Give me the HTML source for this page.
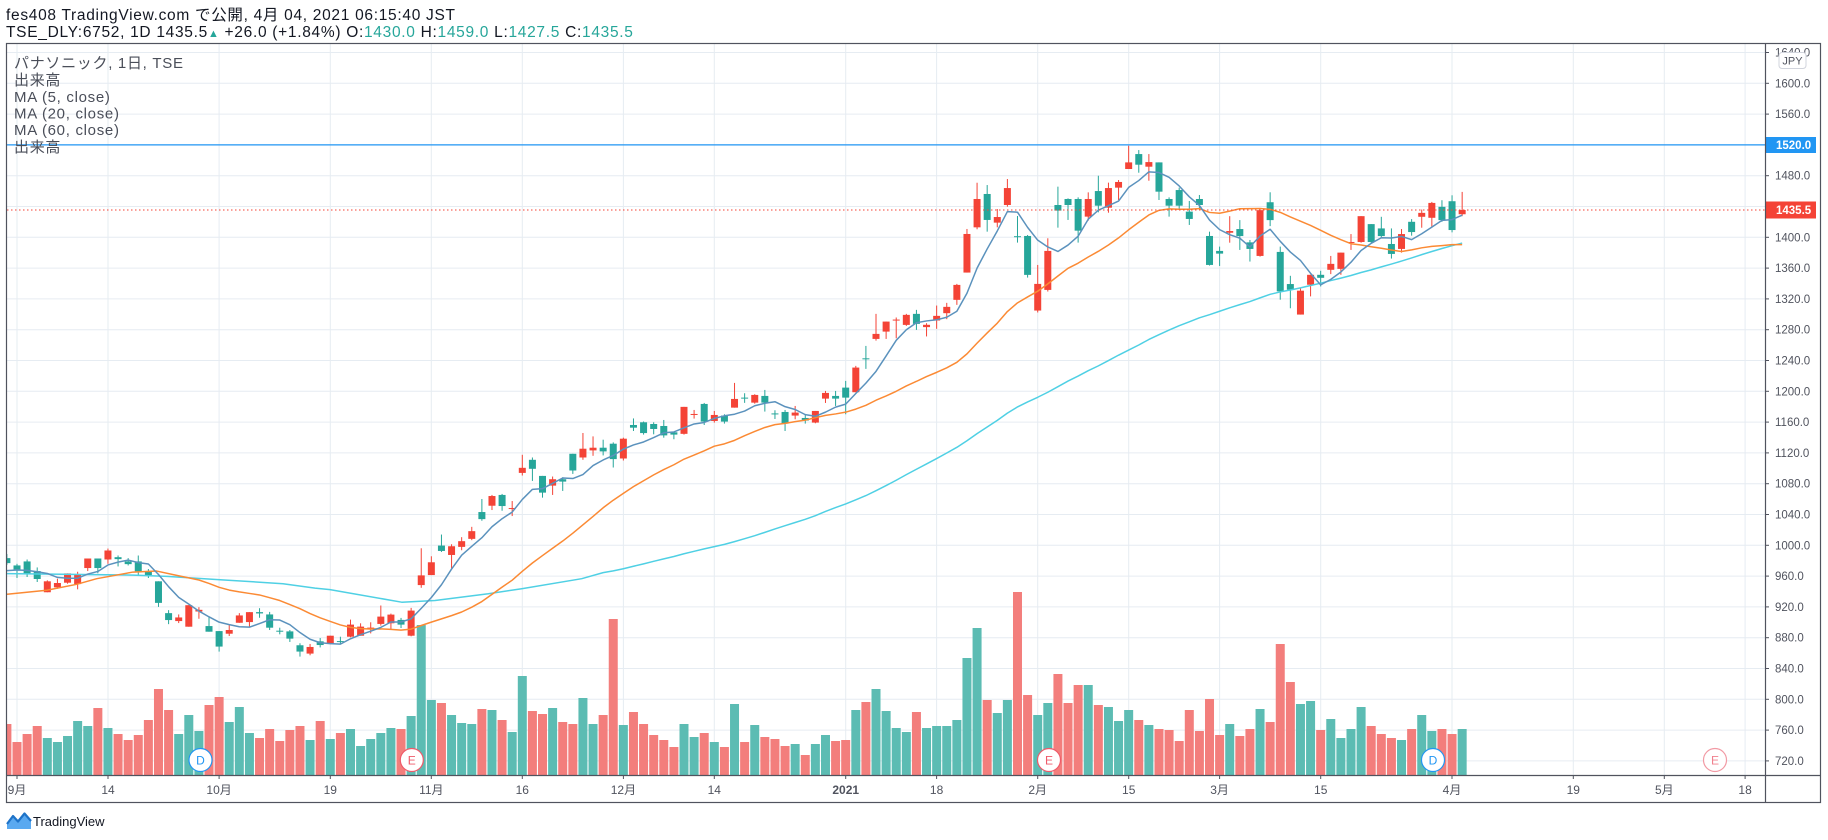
<!DOCTYPE html>
<html><head><meta charset="utf-8">
<style>
html,body{margin:0;padding:0;background:#fff;}
svg{display:block;}
.t{font-family:"Liberation Sans","Noto Sans CJK JP",sans-serif;}
</style></head>
<body>
<svg id="s" width="1828" height="840" viewBox="0 0 1828 840" xmlns="http://www.w3.org/2000/svg">
<defs><clipPath id="cp"><rect x="7" y="43.5" width="1758" height="731.5"/></clipPath></defs>
<rect x="0" y="0" width="1828" height="840" fill="#fff"/>
<!-- title -->
<text class="t" x="6" y="20" font-size="15.5" letter-spacing="0.7" fill="#131722">fes408 TradingView.com で公開, 4月 04, 2021 06:15:40 JST</text>
<text class="t" x="6" y="37" font-size="15.5" letter-spacing="0.7" fill="#131722">TSE_DLY:6752, 1D 1435.5<tspan fill="#26a69a" font-size="11">▲</tspan> +26.0 (+1.84%) O:<tspan fill="#26a69a">1430.0</tspan> H:<tspan fill="#26a69a">1459.0</tspan> L:<tspan fill="#26a69a">1427.5</tspan> C:<tspan fill="#26a69a">1435.5</tspan></text>

<!-- grid -->
<g stroke="#e6ecf2" stroke-width="1">
<line x1="7" x2="1765" y1="52.5" y2="52.5"/><line x1="7" x2="1765" y1="83.3" y2="83.3"/><line x1="7" x2="1765" y1="114.1" y2="114.1"/><line x1="7" x2="1765" y1="144.9" y2="144.9"/><line x1="7" x2="1765" y1="175.7" y2="175.7"/><line x1="7" x2="1765" y1="206.5" y2="206.5"/><line x1="7" x2="1765" y1="237.3" y2="237.3"/><line x1="7" x2="1765" y1="268.1" y2="268.1"/><line x1="7" x2="1765" y1="298.9" y2="298.9"/><line x1="7" x2="1765" y1="329.7" y2="329.7"/><line x1="7" x2="1765" y1="360.5" y2="360.5"/><line x1="7" x2="1765" y1="391.3" y2="391.3"/><line x1="7" x2="1765" y1="422.1" y2="422.1"/><line x1="7" x2="1765" y1="452.9" y2="452.9"/><line x1="7" x2="1765" y1="483.7" y2="483.7"/><line x1="7" x2="1765" y1="514.5" y2="514.5"/><line x1="7" x2="1765" y1="545.3" y2="545.3"/><line x1="7" x2="1765" y1="576.1" y2="576.1"/><line x1="7" x2="1765" y1="606.9" y2="606.9"/><line x1="7" x2="1765" y1="637.7" y2="637.7"/><line x1="7" x2="1765" y1="668.5" y2="668.5"/><line x1="7" x2="1765" y1="699.3" y2="699.3"/><line x1="7" x2="1765" y1="730.1" y2="730.1"/><line x1="7" x2="1765" y1="760.9" y2="760.9"/>
<line y1="43" y2="775" x1="17" x2="17"/><line y1="43" y2="775" x1="108" x2="108"/><line y1="43" y2="775" x1="219.1" x2="219.1"/><line y1="43" y2="775" x1="330.3" x2="330.3"/><line y1="43" y2="775" x1="431.3" x2="431.3"/><line y1="43" y2="775" x1="522.3" x2="522.3"/><line y1="43" y2="775" x1="623.4" x2="623.4"/><line y1="43" y2="775" x1="714.3" x2="714.3"/><line y1="43" y2="775" x1="845.7" x2="845.7"/><line y1="43" y2="775" x1="936.6" x2="936.6"/><line y1="43" y2="775" x1="1037.7" x2="1037.7"/><line y1="43" y2="775" x1="1128.7" x2="1128.7"/><line y1="43" y2="775" x1="1219.6" x2="1219.6"/><line y1="43" y2="775" x1="1320.7" x2="1320.7"/><line y1="43" y2="775" x1="1452" x2="1452"/><line y1="43" y2="775" x1="1573.3" x2="1573.3"/><line y1="43" y2="775" x1="1664.3" x2="1664.3"/><line y1="43" y2="775" x1="1745.1" x2="1745.1"/>
</g>

<g clip-path="url(#cp)">
<g id="vol"></g>
<g id="candles"></g>
<g id="mas"></g>
<line x1="7" x2="1765" y1="210" y2="210" stroke="#f44336" stroke-width="1" stroke-dasharray="1.5,2.5"/>
<line x1="7" x2="1765" y1="144.9" y2="144.9" stroke="#2196f3" stroke-width="1.3"/>
</g>

<!-- event markers -->
<g class="t" font-size="12" text-anchor="middle">
<circle cx="200.5" cy="760" r="11.5" fill="#fff" stroke="#2196f3" stroke-width="1.2"/><text x="200.5" y="764.5" fill="#2196f3">D</text>
<circle cx="411.8" cy="760" r="11.5" fill="#fff" stroke="#ef5a6a" stroke-width="1.2"/><text x="411.8" y="764.5" fill="#ef5a6a">E</text>
<circle cx="1049" cy="760" r="11.5" fill="#fff" stroke="#ef5a6a" stroke-width="1.2"/><text x="1049" y="764.5" fill="#ef5a6a">E</text>
<circle cx="1433" cy="760" r="11.5" fill="#fff" stroke="#2196f3" stroke-width="1.2"/><text x="1433" y="764.5" fill="#2196f3">D</text>
<circle cx="1715" cy="760" r="11.5" fill="#fff" stroke="#f29aa4" stroke-width="1.2"/><text x="1715" y="764.5" fill="#f0808e">E</text>
</g>

<!-- legend -->
<g class="t" font-size="15" letter-spacing="0.7" fill="#4a4e59">
<text x="14" y="68">パナソニック, 1日, TSE</text>
<text x="14" y="85">出来高</text>
<text x="14" y="102">MA (5, close)</text>
<text x="14" y="118.5">MA (20, close)</text>
<text x="14" y="135">MA (60, close)</text>
<text x="14" y="152">出来高</text>
</g>

<!-- price axis -->
<g stroke="#50535e" stroke-width="1">
<line x1="1765" x2="1769" y1="52.5" y2="52.5"/><line x1="1765" x2="1769" y1="83.3" y2="83.3"/><line x1="1765" x2="1769" y1="114.1" y2="114.1"/><line x1="1765" x2="1769" y1="175.7" y2="175.7"/><line x1="1765" x2="1769" y1="237.3" y2="237.3"/><line x1="1765" x2="1769" y1="268.1" y2="268.1"/><line x1="1765" x2="1769" y1="298.9" y2="298.9"/><line x1="1765" x2="1769" y1="329.7" y2="329.7"/><line x1="1765" x2="1769" y1="360.5" y2="360.5"/><line x1="1765" x2="1769" y1="391.3" y2="391.3"/><line x1="1765" x2="1769" y1="422.1" y2="422.1"/><line x1="1765" x2="1769" y1="452.9" y2="452.9"/><line x1="1765" x2="1769" y1="483.7" y2="483.7"/><line x1="1765" x2="1769" y1="514.5" y2="514.5"/><line x1="1765" x2="1769" y1="545.3" y2="545.3"/><line x1="1765" x2="1769" y1="576.1" y2="576.1"/><line x1="1765" x2="1769" y1="606.9" y2="606.9"/><line x1="1765" x2="1769" y1="637.7" y2="637.7"/><line x1="1765" x2="1769" y1="668.5" y2="668.5"/><line x1="1765" x2="1769" y1="699.3" y2="699.3"/><line x1="1765" x2="1769" y1="730.1" y2="730.1"/><line x1="1765" x2="1769" y1="760.9" y2="760.9"/>
</g>
<g class="t" font-size="11.5" fill="#50535e">
<text x="1775" y="56.5">1640.0</text>
<text x="1775" y="87.3">1600.0</text>
<text x="1775" y="118.1">1560.0</text>
<text x="1775" y="179.7">1480.0</text>
<text x="1775" y="241.3">1400.0</text>
<text x="1775" y="272.1">1360.0</text>
<text x="1775" y="302.9">1320.0</text>
<text x="1775" y="333.7">1280.0</text>
<text x="1775" y="364.5">1240.0</text>
<text x="1775" y="395.3">1200.0</text>
<text x="1775" y="426.1">1160.0</text>
<text x="1775" y="456.9">1120.0</text>
<text x="1775" y="487.7">1080.0</text>
<text x="1775" y="518.5">1040.0</text>
<text x="1775" y="549.3">1000.0</text>
<text x="1775" y="580.1">960.0</text>
<text x="1775" y="610.9">920.0</text>
<text x="1775" y="641.7">880.0</text>
<text x="1775" y="672.5">840.0</text>
<text x="1775" y="703.3">800.0</text>
<text x="1775" y="734.1">760.0</text>
<text x="1775" y="764.9">720.0</text>
</g>
<rect x="1779" y="52.5" width="27" height="16" rx="3" fill="#fff" stroke="#d1d4dc" stroke-width="1"/>
<text class="t" x="1792.5" y="64.5" font-size="11" text-anchor="middle" fill="#50535e">JPY</text>
<rect x="1765" y="137" width="51" height="16" fill="#2196f3"/>
<text class="t" x="1776" y="149.2" font-size="11.5" font-weight="bold" fill="#fff">1520.0</text>
<rect x="1765" y="201.5" width="51" height="17" fill="#f44336"/>
<text class="t" x="1776" y="214.2" font-size="11.5" font-weight="bold" fill="#fff">1435.5</text>

<!-- time axis -->
<g stroke="#50535e" stroke-width="1">
<line x1="17" x2="17" y1="775" y2="779"/><line x1="108" x2="108" y1="775" y2="779"/><line x1="219.1" x2="219.1" y1="775" y2="779"/><line x1="330.3" x2="330.3" y1="775" y2="779"/><line x1="431.3" x2="431.3" y1="775" y2="779"/><line x1="522.3" x2="522.3" y1="775" y2="779"/><line x1="623.4" x2="623.4" y1="775" y2="779"/><line x1="714.3" x2="714.3" y1="775" y2="779"/><line x1="845.7" x2="845.7" y1="775" y2="779"/><line x1="936.6" x2="936.6" y1="775" y2="779"/><line x1="1037.7" x2="1037.7" y1="775" y2="779"/><line x1="1128.7" x2="1128.7" y1="775" y2="779"/><line x1="1219.6" x2="1219.6" y1="775" y2="779"/><line x1="1320.7" x2="1320.7" y1="775" y2="779"/><line x1="1452" x2="1452" y1="775" y2="779"/><line x1="1573.3" x2="1573.3" y1="775" y2="779"/><line x1="1664.3" x2="1664.3" y1="775" y2="779"/><line x1="1745.1" x2="1745.1" y1="775" y2="779"/>
</g>
<g class="t" font-size="12" fill="#50535e" text-anchor="middle">
<text x="17" y="794">9月</text>
<text x="108" y="794">14</text>
<text x="219.1" y="794">10月</text>
<text x="330.3" y="794">19</text>
<text x="431.3" y="794">11月</text>
<text x="522.3" y="794">16</text>
<text x="623.4" y="794">12月</text>
<text x="714.3" y="794">14</text>
<text x="845.7" y="794" font-weight="bold">2021</text>
<text x="936.6" y="794">18</text>
<text x="1037.7" y="794">2月</text>
<text x="1128.7" y="794">15</text>
<text x="1219.6" y="794">3月</text>
<text x="1320.7" y="794">15</text>
<text x="1452" y="794">4月</text>
<text x="1573.3" y="794">19</text>
<text x="1664.3" y="794">5月</text>
<text x="1745.1" y="794">18</text>
</g>

<!-- frame -->
<g stroke="#50535e" stroke-width="1.2" fill="none">
<rect x="6.5" y="43.5" width="1814" height="759"/>
<line x1="1765.5" x2="1765.5" y1="43.5" y2="802.5"/>
<line x1="6.5" x2="1820.5" y1="775.5" y2="775.5"/>
</g>

<!-- footer -->
<g>
<path d="M7,829 L7,824 L13,816 L18,821.5 L24.5,813.5 L31,821 L31,829 Z" fill="#5aa9f0"/>
<path d="M7,824 L13,816 L18,821.5 L24.5,813.5 L31,821" fill="none" stroke="#1e73c8" stroke-width="2.2" stroke-linejoin="round"/>
<text class="t" x="33" y="826" font-size="13" fill="#131722">TradingView</text>
</g>
</svg>
<script>
(function(){
var D=[
[983.7,989,975,977.2],[974.2,976.3,957.9,969],[979.4,981.9,959.2,962.6],[966.9,971.6,952.7,956.6],[939.4,954.9,939.4,953.6],
[945.8,957,944,951.4],[951.8,963.9,950.5,963.9],[950,966,943.2,962.6],[970.8,983.2,966.9,983.2],[983.2,983.2,964,970.8],
[981.9,996.1,976.3,993.6],[984.9,987.1,972.9,982.4],[979.4,983.7,974.2,975.9],[979.4,987.1,961.3,966.5],[966.5,969.5,957.9,961.7],
[953.6,953.6,920.4,925.6],[912.3,916.2,898,903.3],[902,910.6,899.4,906.7],[894.7,922.6,894.7,922.6],[914.4,920,905,916.6],
[895.5,906.7,888.2,888.2],[889,889,862.4,868.9],[885.6,897.7,882.6,890.4],[899.8,912.3,899.8,909.3],[900.7,913.6,894.7,913.6],
[913.6,918.7,906.3,911.9],[910.6,913.9,890.4,893.4],[889.5,893.4,884.8,888.5],[888.6,890.4,874.9,879.2],[870.6,873.2,855.9,862.4],
[859.8,872.3,857.6,868.4],[875.7,880,867.8,870.9],[872.2,883,872,883],[876,881.7,872,875.5],[881.7,903.9,880.9,897.4],
[883,899.1,883,894.8],[892.7,900.4,886,893.5],[898.3,922.2,896.1,907.8],[899.1,911.7,891.7,910.4],[903.5,906.1,893,897.4],
[883,919.1,882.2,915.6],[948.7,996.5,945.2,961.3],[961.7,986.1,961.7,978.3],[1000,1014.3,991.7,993],[987.8,1001.7,970.4,999.1],
[998.3,1010.9,993.9,1005.7],[1008.7,1024.3,1007,1018.7],[1043.5,1060.4,1032.2,1034.3],[1051.7,1065.7,1046.1,1064.3],[1065.7,1067,1045.2,1051.3],
[1047.4,1057.8,1038.3,1048.7],[1094.3,1117.8,1090.9,1100.9],[1111.3,1114.3,1083.9,1099.6],[1090.4,1090.4,1062.2,1068.7],[1077.8,1089.6,1065.7,1086.1],
[1086.1,1088.7,1070.9,1083],[1119.1,1119.1,1093,1097.4],[1114.3,1146.1,1111.3,1125.7],[1123.5,1141.7,1116.5,1127],[1127,1137.4,1117,1122.2],
[1132.2,1133.9,1101.3,1112.2],[1113,1140,1110.4,1138.7],[1156.5,1165,1148.7,1153],[1160,1161,1144,1146],[1157.8,1160,1144.4,1151.3],
[1155.2,1163,1140,1143],[1147,1148,1138,1144],[1145,1180,1144,1180],[1169.5,1176,1164.8,1170.8],[1183.8,1185.1,1156.5,1160.9],
[1161.7,1174.7,1159.6,1169.5],[1168.7,1170.4,1158.3,1160.9],[1179,1211.1,1179,1190.3],[1192,1197.7,1185.2,1191.2],[1185.5,1196.4,1184.2,1195.5],
[1194.2,1202,1173.9,1185.5],[1171.5,1175.6,1164.3,1171],[1173.4,1176,1148.7,1158.3],[1168.7,1181.2,1163.9,1172.6],[1165.6,1170.4,1158.3,1162.2],
[1159.6,1174.7,1158.7,1174.7],[1190.7,1200.7,1185.1,1198.1],[1194.2,1200.7,1181.2,1190.7],[1205,1213.7,1170.4,1192],[1199,1233.2,1199,1231],
[1243,1259.1,1229.3,1242.2],[1268.2,1300.7,1266,1274.7],[1277.7,1290.7,1268.2,1290.7],[1292,1296,1269,1293.3],[1286.4,1300.7,1285.1,1299.4],
[1300.7,1305.9,1279.9,1287.7],[1283.5,1288.6,1271.4,1286.5],[1292.1,1311.5,1281.3,1298.1],[1301.6,1315,1293.8,1309.8],[1318.9,1339.6,1312.4,1338.3],
[1354.3,1410.9,1354.3,1404.4],[1413,1470.9,1410.5,1449.8],[1456.3,1467.9,1407.4,1422.6],[1419.1,1436.8,1413,1426.4],[1442,1475.7,1439.8,1464],
[1401.5,1427.7,1393.2,1400.5],[1401.8,1403.1,1347.8,1351.3],[1305,1364.2,1302.5,1339.6],[1331.8,1398.8,1329.7,1382.4],[1442,1465.8,1412.6,1434.7],
[1449.8,1450.6,1422.6,1442],[1449.8,1451.9,1393.2,1408.7],[1426.9,1458.4,1421.7,1449.8],[1460.1,1480,1432.5,1441.1],[1438.5,1471,1432,1464],
[1464.5,1474.4,1448.5,1471.9],[1488.7,1518.9,1488.7,1497.3],[1508.1,1513.3,1483.9,1494.3],[1491.7,1508.1,1473.5,1497.7],[1497.3,1497.3,1448.5,1459.3],
[1449.8,1451.9,1426.9,1441.1],[1461.4,1464.5,1435.5,1441.1],[1433.4,1447.2,1416.1,1423.9],[1449.8,1455,1436.4,1442],[1401.8,1407.4,1363.4,1364.2],
[1382.4,1388,1362.9,1378.9],[1406,1427.5,1393.1,1408.2],[1410.8,1422.4,1383.7,1401.7],[1393.5,1396.6,1368.6,1385],[1375.9,1437.4,1375,1435.3],
[1445.6,1458.5,1414.6,1422.4],[1381.1,1388,1319.1,1329.9],[1339.4,1350.1,1308,1332],[1299.8,1334.2,1299.8,1330.8],[1338.5,1351.4,1323.4,1351.4],
[1351.4,1356.6,1336.3,1347.5],[1357.9,1375.9,1352.3,1365.6],[1359.1,1380.2,1351.4,1380.2],[1392.7,1404.3,1383.7,1394],[1394,1427.5,1393.1,1427.5],
[1417.2,1417.2,1393.1,1394],[1411.6,1426.7,1398.7,1401.7],[1391.4,1411.6,1372.5,1378.5],[1385,1410.8,1380.2,1404.3],[1420.2,1423.7,1402.2,1406.9],
[1426.7,1436.1,1412.5,1431.8],[1425.4,1446,1412.9,1444.7],[1439.6,1448.2,1420.2,1422.4],[1446.9,1454.6,1406.5,1409.5],[1430,1459,1427.5,1435.5]
];
var VOL=[417,471,447,423,459,471,453,408,423,369,429,447,465,450,405,312,375,447,390,438,360,336,411,366,444,459,432,468,435,423,465,408,462,444,432,483,462,444,429,432,393,120,345,354,390,414,417,372,375,405,441,273,378,387,369,411,417,339,417,390,102,420,381,417,450,465,486,417,456,444,471,486,357,471,420,456,462,483,477,510,477,450,468,465,375,351,312,378,429,441,381,429,423,423,405,219,129,345,384,345,21,330,390,354,267,354,300,300,360,366,408,375,405,420,432,435,468,375,438,342,450,417,453,432,372,411,177,291,357,348,435,402,459,432,366,423,447,459,465,432,390,438,432,447,432];
var NS="http://www.w3.org/2000/svg";
function X(k){return 17+10.106*(k-1);}
function Y(p){return 761.3-(p-720)*0.7705;}
function el(tag,attrs,parent){var e=document.createElementNS(NS,tag);for(var a in attrs)e.setAttribute(a,attrs[a]);parent.appendChild(e);return e;}
var gv=document.getElementById('vol'),gc=document.getElementById('candles'),gm=document.getElementById('mas');
var k;
for(k=0;k<D.length;k++){
 var o=D[k][0],h=D[k][1],l=D[k][2],c=D[k][3];
 var up=c>=o, x=X(k);
 var v=VOL[k]!==undefined?VOL[k]:450;
 var top=585+v/3;
 el('rect',{x:(x-4.5).toFixed(2),y:top.toFixed(2),width:9,height:(775-top).toFixed(2),fill:up?'#5cbcb3':'#f37e7c'},gv);
}
var C=D.map(function(d){return d[3];});
function sma(arr,n,j){var s=0;for(var q=j-n+1;q<=j;q++)s+=arr[q];return s/n;}
function pts(list){return list.map(function(p){return p[0].toFixed(2)+','+p[1].toFixed(2);}).join(' ');}
// MA60
var m60=[[7,963.5],[133,961.7],[167,960],[220,955.7],[283,950.5],[315,944.8],[330,942.8],[401.7,926.5],[435,928.7],[488.3,937.4],[521.7,944],[581.7,957]].map(function(p){return [p[0],Y(p[1])];});
for(k=59;k<C.length;k++){m60.push([X(k),Y(sma(C,60,k))]);}
// MA20
var m20=[[7,936.8],[46.7,942],[76.7,949.7],[96.7,957],[133,965.6],[156.7,966.9],[176.7,961.3]].map(function(p){return [p[0],Y(p[1])];});
for(k=19;k<C.length;k++){m20.push([X(k),Y(sma(C,20,k))]);}
// MA5
var ext=[965,965,965,965].concat(C);
var m5=[];
for(k=0;k<C.length;k++){m5.push([X(k),Y(sma(ext,5,k+4))]);}
el('polyline',{points:pts(m60),fill:'none',stroke:'#4fd0e4','stroke-width':1.5,'stroke-linejoin':'round'},gm);
el('polyline',{points:pts(m20),fill:'none',stroke:'#fb8a34','stroke-width':1.5,'stroke-linejoin':'round'},gm);
for(k=0;k<D.length;k++){
 var o2=D[k][0],h2=D[k][1],l2=D[k][2],c2=D[k][3];
 var col=c2>=o2?'#f44336':'#26a69a', x2=X(k);
 el('rect',{x:(x2-0.5).toFixed(2),y:Y(h2).toFixed(2),width:1,height:Math.max(1,Y(l2)-Y(h2)).toFixed(2),fill:col},gc);
 var yt=Y(Math.max(o2,c2)),yb=Y(Math.min(o2,c2));
 el('rect',{x:(x2-3.5).toFixed(2),y:yt.toFixed(2),width:7,height:Math.max(1,yb-yt).toFixed(2),fill:col},gc);
}
el('polyline',{points:pts(m5),fill:'none',stroke:'#5b92bd','stroke-width':1.5,'stroke-linejoin':'round'},gm);
})();
</script>
</body></html>
